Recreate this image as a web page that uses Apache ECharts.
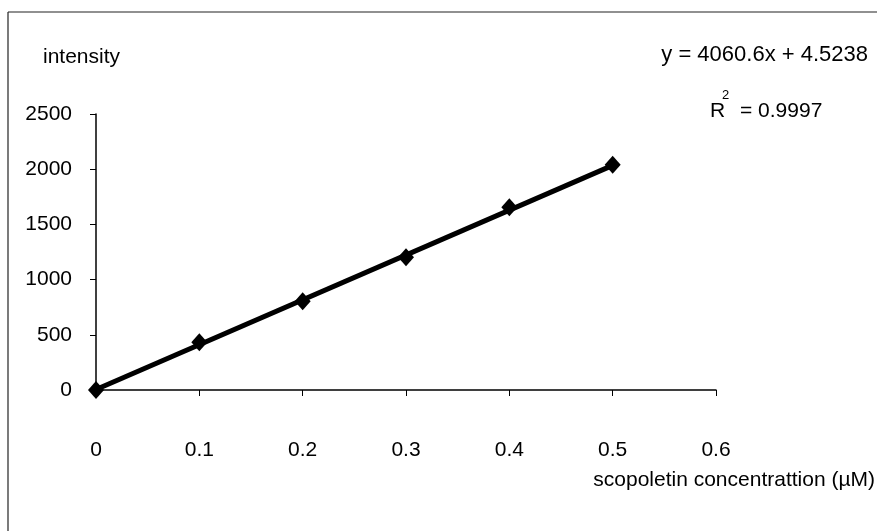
<!DOCTYPE html>
<html>
<head>
<meta charset="utf-8">
<script src="https://cdn.jsdelivr.net/npm/echarts@6/dist/echarts.min.js"></script>
<style>
html,body{margin:0;padding:0;background:#fff;}
#chart{width:877px;height:531px;}
</style>
</head>
<body>
<div id="chart"></div>
<script>
// concentration (µM)
var concentrations = [0, 0.1, 0.2, 0.3, 0.4, 0.5];
// measured intensity
var intensities = [0, 432, 805, 1202, 1655, 2040];
// linear trendline endpoints as drawn
var trendX = [0, 0.5];
var trendY = [4.5, 2035];
var yTicks = [0, 500, 1000, 1500, 2000, 2500];
var xTicks = [0, 0.1, 0.2, 0.3, 0.4, 0.5, 0.6];
var yAxisName = 'intensity';
var xAxisName = 'scopoletin concentrattion (\u00B5M)';
var equationText = 'y = 4060.6x + 4.5238';
var r2Value = '0.9997';

var FONT = '"Liberation Sans", Arial, sans-serif';
var chart = echarts.init(document.getElementById('chart'), null, {renderer: 'canvas'});

var pointData = concentrations.map(function (x, i) { return [x, intensities[i]]; });
var trendData = trendX.map(function (x, i) { return [x, trendY[i]]; });

chart.setOption({
  animation: false,
  backgroundColor: '#fff',
  grid: {left: 96, right: 161, top: 114, bottom: 141, containLabel: false},
  xAxis: {
    type: 'value',
    min: xTicks[0], max: xTicks[xTicks.length - 1], interval: 0.1,
    axisLine: {show: true, lineStyle: {color: '#000', width: 1.5}},
    axisTick: {show: true, inside: false, length: 6, lineStyle: {color: '#000', width: 1}},
    axisLabel: {margin: 50, color: '#000', fontSize: 21, fontFamily: FONT,
      formatter: function (v) { return String(Math.round(v * 10) / 10); }},
    splitLine: {show: false}
  },
  yAxis: {
    type: 'value',
    min: yTicks[0], max: yTicks[yTicks.length - 1], interval: 500,
    axisLine: {show: true, lineStyle: {color: '#000', width: 1.5}},
    axisTick: {show: true, inside: false, length: 6, lineStyle: {color: '#000', width: 1}},
    axisLabel: {margin: 24, color: '#000', fontSize: 21, fontFamily: FONT,
      formatter: function (v) { return String(v); }},
    splitLine: {show: false}
  },
  series: [
    {
      type: 'line',
      data: trendData,
      symbol: 'none',
      lineStyle: {color: '#000', width: 5},
      z: 2
    },
    {
      type: 'scatter',
      data: pointData,
      symbol: 'diamond',
      symbolSize: [16, 18],
      itemStyle: {color: '#000', opacity: 1},
      z: 3
    }
  ],
  graphic: [
    {type: 'line', shape: {x1: 8, y1: 12, x2: 877, y2: 12}, style: {stroke: '#222', lineWidth: 1.2}},
    {type: 'line', shape: {x1: 8, y1: 12, x2: 8, y2: 531}, style: {stroke: '#222', lineWidth: 1.2}},
    {type: 'text', left: 43, top: 47, style: {text: yAxisName, font: '21px ' + FONT, fill: '#000'}},
    {type: 'text', right: 9, top: 44, style: {text: equationText, font: '22px ' + FONT, fill: '#000'}},
    {type: 'text', left: 710, top: 101, style: {text: 'R', font: '21px ' + FONT, fill: '#000'}},
    {type: 'text', left: 722, top: 89, style: {text: '2', font: '13px ' + FONT, fill: '#000'}},
    {type: 'text', left: 740, top: 101, style: {text: '= ' + r2Value, font: '21px ' + FONT, fill: '#000'}},
    {type: 'text', right: 2, top: 470, style: {text: xAxisName, font: '21px ' + FONT, fill: '#000'}}
  ]
});
</script>
</body>
</html>
